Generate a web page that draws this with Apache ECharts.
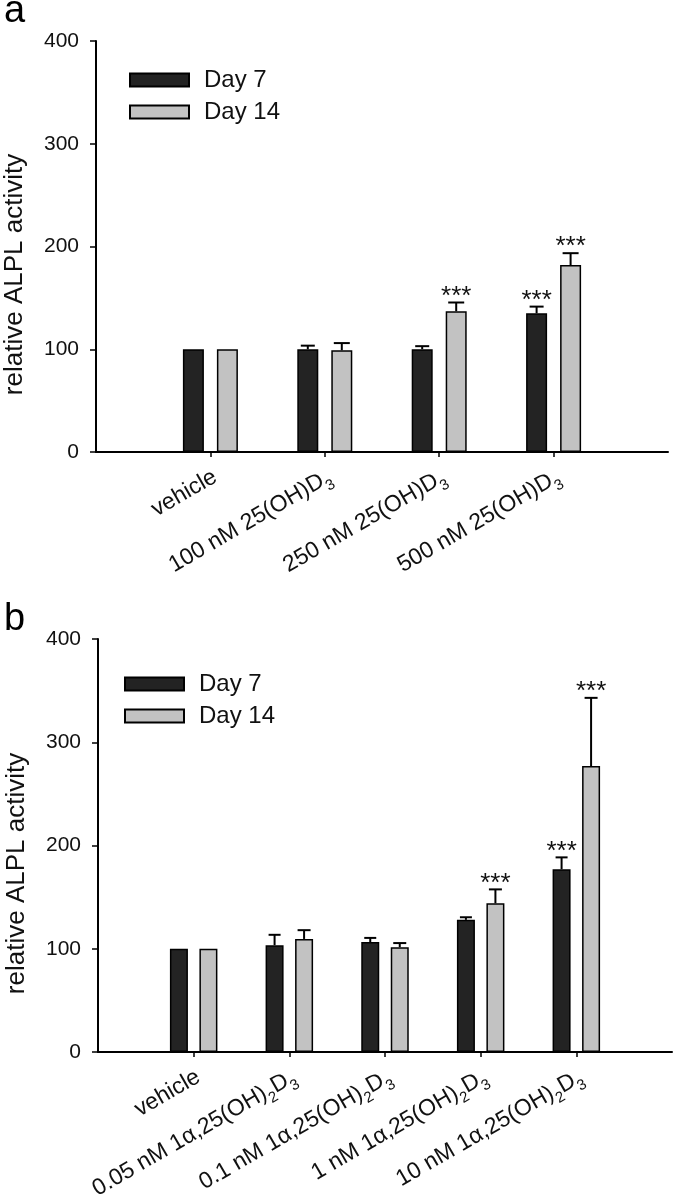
<!DOCTYPE html>
<html>
<head>
<meta charset="utf-8">
<script src="https://cdn.jsdelivr.net/npm/echarts@6/dist/echarts.min.js"></script>
<style>
html, body { margin: 0; background: #fff; }
#chart { width: 675px; height: 1198px; }
</style>
</head>
<body>
<div id="chart"></div>
<script>
// panel a: 25(OH)D3   ("_3" marks a subscript)
const catsA = ['vehicle', '100 nM 25(OH)D_3', '250 nM 25(OH)D_3', '500 nM 25(OH)D_3'];
const day7A = [100, 100, 100, 135];
const day7ErrA = [0, 3.5, 3, 6.5];
const day14A = [100, 99, 137, 182];
const day14ErrA = [0, 7, 8.5, 11.5];
const day7SigA = ['', '', '', '***'];
const day14SigA = ['', '', '***', '***'];

// panel b: 1a,25(OH)2D3
const catsB = ['vehicle', '0.05 nM 1α,25(OH)_2D_3', '0.1 nM 1α,25(OH)_2D_3', '1 nM 1α,25(OH)_2D_3', '10 nM 1α,25(OH)_2D_3'];
const day7B = [100, 103.5, 106.5, 128, 177];
const day7ErrB = [0, 10, 4, 2.5, 11.5];
const day14B = [100, 109.5, 101.5, 144, 277];
const day14ErrB = [0, 8.5, 4, 13.5, 66];
const day7SigB = ['', '', '', '', '***'];
const day14SigB = ['', '', '', '***', '***'];

const yMax = 400;
const yStep = 100;

const FONT = '"Liberation Sans", Arial, sans-serif';
const DARK = '#232323';
const LIGHT = '#c2c2c2';

var myChart = echarts.init(document.getElementById('chart'));

// empty slot at both ends so the groups sit one step in from the axis ends
const pad = cats => ['', ...cats, ''];
const pairs = vals => vals.map((v, i) => [i + 1, v]);

// "25(OH)D_3" -> rich text with subscripts
const richLabel = v => {
    if (!v) return '';
    const parts = v.split(/_(\d)/);
    let out = parts.map((s, i) => i % 2 ? '{s|' + s + '}' : (s ? '{n|' + s + '}' : '')).join('');
    if (parts.length === 1) out += '{s|\u200b}'; // same block height as the others
    return out;
};

const xAxisFor = (gridIndex, cats) => ({
    type: 'category',
    gridIndex,
    data: pad(cats),
    boundaryGap: false,
    axisLine: { lineStyle: { color: '#000', width: 2 } },
    axisTick: {
        length: 5,
        lineStyle: { color: '#000', width: 1.5 },
        interval: (i) => i > 0 && i < cats.length + 1
    },
    axisLabel: {
        interval: 0,
        rotate: 30,
        margin: 29,
        padding: [0, -7, 0, 0],
        formatter: richLabel,
        rich: {
            n: { fontSize: 23, fontFamily: FONT, color: '#111', lineHeight: 23, verticalAlign: 'top' },
            s: { fontSize: 15, fontFamily: FONT, color: '#111', lineHeight: 28, verticalAlign: 'bottom' }
        }
    },
    splitLine: { show: false }
});

const yAxisFor = (gridIndex) => ({
    type: 'value',
    gridIndex,
    min: 0,
    max: yMax,
    interval: yStep,
    name: 'relative ALPL activity',
    nameLocation: 'middle',
    nameGap: 68,
    nameMoveOverlap: false,
    nameTextStyle: { fontSize: 26, fontFamily: FONT, color: '#111', padding: [0, 56, 0, 0] },
    axisLine: { show: true, lineStyle: { color: '#000', width: 2 } },
    axisTick: { show: true, length: 6, lineStyle: { color: '#000', width: 1.5 } },
    axisLabel: { fontSize: 21, fontFamily: FONT, color: '#111', margin: 17 },
    splitLine: { show: false }
});

const barFor = (idx, name, vals, color, width, gap) => ({
    type: 'bar',
    name,
    xAxisIndex: idx,
    yAxisIndex: idx,
    data: pairs(vals),
    barWidth: width,
    barGap: gap,
    itemStyle: { color, borderColor: '#000', borderWidth: 1.5 }
});

// one-sided error bars + significance stars
const errorFor = (idx, vals, errs, sigs, shift, capW) => ({
    type: 'custom',
    xAxisIndex: idx,
    yAxisIndex: idx,
    silent: true,
    z: 5,
    data: vals.map((v, i) => [i + 1, v, errs[i]]),
    encode: { x: 0, y: 1 },
    renderItem(params, api) {
        const base = api.coord([api.value(0), api.value(1)]);
        const tip = api.coord([api.value(0), api.value(1) + api.value(2)]);
        const x = base[0] + shift;
        const children = [];
        if (api.value(2) > 0) {
            children.push({ type: 'line', shape: { x1: x, y1: base[1], x2: x, y2: tip[1] }, style: { stroke: '#000', lineWidth: 2 } });
            children.push({ type: 'line', shape: { x1: x - capW / 2, y1: tip[1], x2: x + capW / 2, y2: tip[1] }, style: { stroke: '#000', lineWidth: 2 } });
        }
        const s = sigs[params.dataIndex];
        if (s) {
            children.push({
                type: 'text',
                style: { text: s, x, y: tip[1] - 6, align: 'center', verticalAlign: 'middle', fontSize: 26, fontFamily: FONT, fill: '#111' }
            });
        }
        return { type: 'group', children };
    }
});

const legendFor = (left, top) => ({
    orient: 'vertical',
    left,
    top,
    padding: 0,
    itemWidth: 59,
    itemHeight: 13,
    itemGap: 8,
    icon: 'rect',
    selectedMode: false,
    data: ['Day 7', 'Day 14'],
    textStyle: { fontSize: 24, fontFamily: FONT, color: '#111', padding: [0, 0, 0, 10] }
});

// bar geometry (px) per panel
const bwA = 21, gapA = 13;
const bwB = 18, gapB = 11.5;

var option = {
    backgroundColor: '#fff',
    animation: false,
    graphic: [
        { type: 'text', style: { text: 'a', x: 4, y: 12, verticalAlign: 'middle', fontSize: 38, fontFamily: FONT, fill: '#000' } },
        { type: 'text', style: { text: 'b', x: 4, y: 620, verticalAlign: 'middle', fontSize: 38, fontFamily: FONT, fill: '#000' } }
    ],
    legend: [legendFor(129, 68), legendFor(124, 672)],
    grid: [
        { left: 96, top: 41, width: 572, height: 411, outerBoundsMode: 'none', containLabel: false },
        { left: 98, top: 639, width: 574, height: 413, outerBoundsMode: 'none', containLabel: false }
    ],
    xAxis: [xAxisFor(0, catsA), xAxisFor(1, catsB)],
    yAxis: [yAxisFor(0), yAxisFor(1)],
    series: [
        barFor(0, 'Day 7', day7A, DARK, bwA, (gapA / bwA * 100) + '%'),
        barFor(0, 'Day 14', day14A, LIGHT, bwA, (gapA / bwA * 100) + '%'),
        barFor(1, 'Day 7', day7B, DARK, bwB, (gapB / bwB * 100) + '%'),
        barFor(1, 'Day 14', day14B, LIGHT, bwB, (gapB / bwB * 100) + '%'),
        errorFor(0, day7A, day7ErrA, day7SigA, -(bwA + gapA) / 2, 14),
        errorFor(0, day14A, day14ErrA, day14SigA, (bwA + gapA) / 2, 16),
        errorFor(1, day7B, day7ErrB, day7SigB, -(bwB + gapB) / 2, 12),
        errorFor(1, day14B, day14ErrB, day14SigB, (bwB + gapB) / 2, 13)
    ]
};

myChart.setOption(option);
</script>
</body>
</html>
